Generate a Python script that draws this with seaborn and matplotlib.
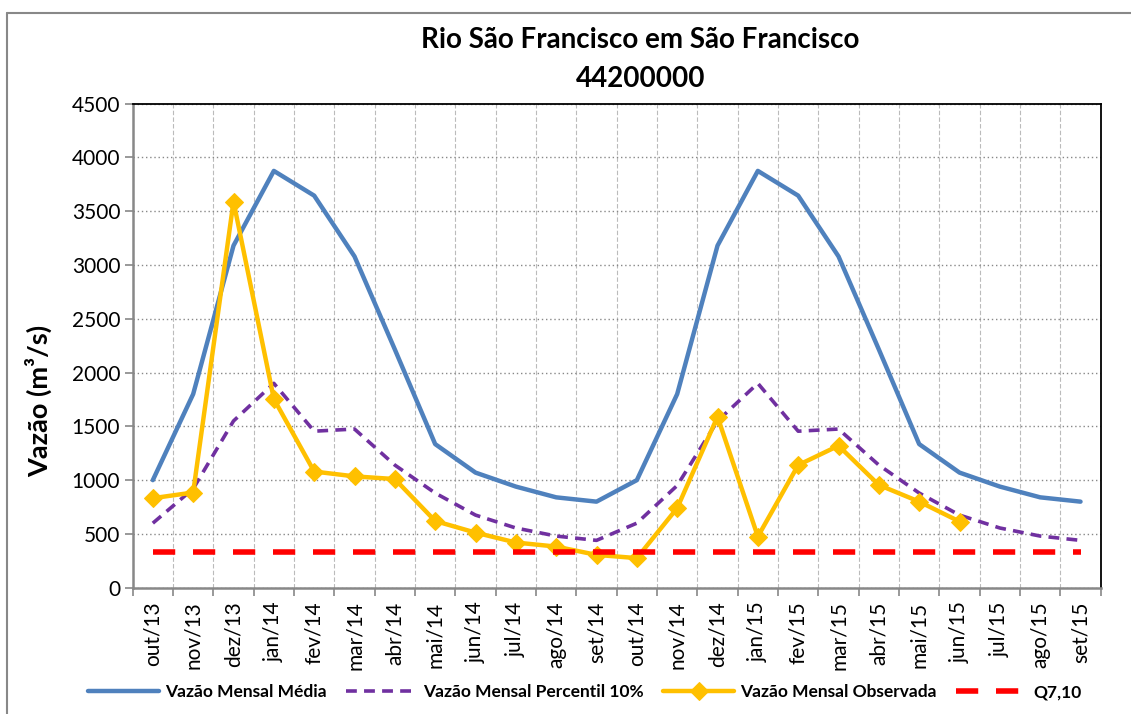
import numpy as np
import pandas as pd
import matplotlib
matplotlib.use('Agg')
import matplotlib.pyplot as plt
import seaborn as sns
from matplotlib.lines import Line2D

# Monthly categories
meses = ['out/13', 'nov/13', 'dez/13', 'jan/14', 'fev/14', 'mar/14', 'abr/14', 'mai/14',
         'jun/14', 'jul/14', 'ago/14', 'set/14', 'out/14', 'nov/14', 'dez/14', 'jan/15',
         'fev/15', 'mar/15', 'abr/15', 'mai/15', 'jun/15', 'jul/15', 'ago/15', 'set/15']

# Series values (m3/s)
media = [1000, 1800, 3180, 3875, 3645, 3080, 2215, 1335, 1070, 940, 840, 800,
         1000, 1800, 3180, 3875, 3645, 3080, 2215, 1335, 1070, 940, 840, 800]
percentil10 = [600, 920, 1550, 1900, 1455, 1475, 1140, 880, 675, 555, 480, 440,
               600, 950, 1550, 1900, 1455, 1475, 1140, 880, 675, 555, 480, 440]
observada = [832, 885, 3590, 1755, 1080, 1035, 1010, 620, 512, 420, 382, 305,
             275, 740, 1590, 475, 1140, 1320, 955, 800, 615]
q710 = [335] * 24

df = pd.DataFrame({'x': np.arange(len(meses)), 'media': media,
                   'p10': percentil10, 'q710': q710})
df_obs = pd.DataFrame({'x': np.arange(len(observada)), 'obs': observada})

sns.set_style('white')
plt.rcParams['font.family'] = ['Lato', 'DejaVu Sans']
plt.rcParams['text.color'] = 'black'
plt.rcParams['axes.labelcolor'] = 'black'

fig = plt.figure(figsize=(11.31, 7.14), dpi=100)
ax = fig.add_axes([0.1173, 0.1769, 0.8559, 0.6779])

sns.lineplot(data=df, x='x', y='media', ax=ax, color='#4F81BD', linewidth=3.2,
             label='Vazão Mensal Média')
sns.lineplot(data=df, x='x', y='p10', ax=ax, color='#7030A0', linewidth=2.6,
             label='Vazão Mensal Percentil 10%')
ax.lines[-1].set_dashes([3, 2])
sns.lineplot(data=df_obs, x='x', y='obs', ax=ax, color='#FFC000', linewidth=3.2,
             marker='D', markersize=9, markeredgecolor='#FFC000',
             label='Vazão Mensal Observada')
sns.lineplot(data=df, x='x', y='q710', ax=ax, color='#FF0000', linewidth=4,
             label='Q7,10')
ax.lines[-1].set_dashes([4, 3.2])

ax.set_xlim(-0.5, len(meses) - 0.5)
ax.set_ylim(0, 4500)
ax.set_yticks(np.arange(0, 4501, 500))
ax.tick_params(axis='y', labelsize=15, length=6, width=1.2, color='#888888',
               labelcolor='black', direction='out', left=True, pad=3)

# boundary ticks, labels in between
ax.set_xticks(np.arange(-0.5, len(meses), 1))
ax.set_xticklabels([])
ax.set_xticks(np.arange(len(meses)), minor=True)
ax.set_xticklabels(meses, minor=True, rotation=90, fontsize=15)
ax.tick_params(axis='x', which='major', length=6, width=1.2, color='#888888',
               direction='out', bottom=True)
ax.tick_params(axis='x', which='minor', length=0, pad=10, labelcolor='black')

ax.grid(axis='y', which='major', color='#888888', linestyle=(0, (1, 2)), linewidth=1)
ax.grid(axis='x', which='major', color='#BBBBBB', linestyle=(0, (4, 2)), linewidth=0.8)

for s in ['top', 'right']:
    ax.spines[s].set_color('black')
    ax.spines[s].set_linewidth(1.3)
for s in ['left', 'bottom']:
    ax.spines[s].set_color('#888888')
    ax.spines[s].set_linewidth(1.8)

ax.set_xlabel('')
ax.set_ylabel('Vazão (m³/s)', fontsize=19.5, fontweight='bold')
ax.yaxis.set_label_coords(-0.083, 0.386)

fig.text(0.566, 1 - 40 / 714, 'Rio São Francisco em São Francisco', fontsize=20,
         fontweight='bold', ha='center', va='center')
fig.text(0.566, 1 - 79 / 714, '44200000', fontsize=20, fontweight='bold',
         ha='center', va='center')

ax.legend_.remove()
handles, labels = ax.get_legend_handles_labels()
fig.legend(handles, labels, loc='center', bbox_to_anchor=(0.517, 1 - 692 / 714), ncol=4,
           frameon=False, prop={'weight': 'bold', 'size': 12.5}, handlelength=4.1,
           handletextpad=0.35, columnspacing=1.1)

# outer chart border (only left and top visible in the crop)
fig.lines.append(Line2D([7 / 1131, 7 / 1131], [0, 1 - 13 / 714], transform=fig.transFigure,
                        color='#888888', linewidth=1.5))
fig.lines.append(Line2D([7 / 1131, 1], [1 - 13 / 714, 1 - 13 / 714], transform=fig.transFigure,
                        color='#888888', linewidth=1.5))

fig.savefig('out.png', dpi=100)
